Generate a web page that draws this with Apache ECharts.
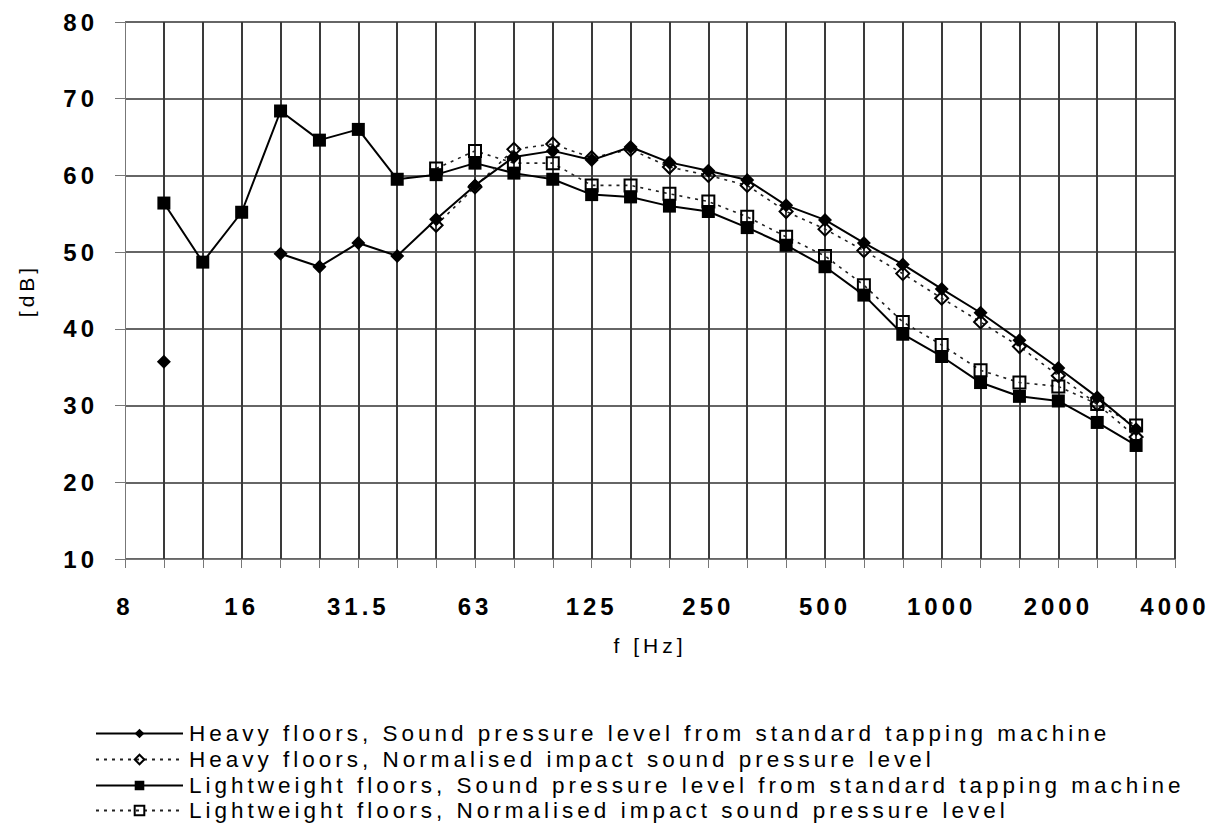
<!DOCTYPE html>
<html>
<head>
<meta charset="utf-8">
<script src="https://cdn.jsdelivr.net/npm/echarts@6/dist/echarts.min.js"></script>
<style>
  html, body { margin: 0; padding: 0; background: #fff; }
  #chart { width: 1219px; height: 824px; }
  /* the original uses widely spaced lettering */
  #chart text { letter-spacing: 4px; }
</style>
</head>
<body>
<div id="chart"></div>
<script>
// third-octave band centre frequencies, Hz
const freqs = ['8', '10', '12.5', '16', '20', '25', '31.5', '40', '50', '63', '80', '100', '125', '160',
  '200', '250', '315', '400', '500', '630', '800', '1000', '1250', '1600', '2000', '2500', '3150', '4000'];

// levels in dB, null where nothing was measured
const heavySpl = [null, 35.7, null, null, 49.8, 48.1, 51.2, 49.5, 54.3, 58.7, 62.4, 63.2, 62.0, 63.7,
  61.7, 60.6, 59.4, 56.1, 54.2, 51.2, 48.4, 45.2, 42.1, 38.5, 34.9, 31.1, 26.9, null];
const heavyNorm = [null, null, null, null, null, null, null, null, 53.5, 58.5, 63.4, 64.1, 62.3, 63.4,
  61.1, 60.0, 58.7, 55.3, 53.0, 50.2, 47.2, 44.0, 40.9, 37.7, 33.9, 30.2, 25.9, null];
const lightSpl = [null, 56.4, 48.7, 55.2, 68.4, 64.6, 66.0, 59.5, 60.1, 61.6, 60.3, 59.5, 57.5, 57.2,
  56.0, 55.3, 53.2, 50.9, 48.1, 44.4, 39.3, 36.4, 33.0, 31.2, 30.6, 27.8, 24.8, null];
const lightNorm = [null, null, null, null, null, null, null, null, 60.9, 63.2, 61.6, 61.6, 58.7, 58.7,
  57.6, 56.6, 54.6, 52.0, 49.5, 45.7, 40.9, 37.9, 34.6, 33.0, 32.5, 30.2, 27.4, null];

const seriesNames = [
  'Heavy floors, Sound pressure level from standard tapping machine',
  'Heavy floors, Normalised impact sound pressure level',
  'Lightweight floors, Sound pressure level from standard tapping machine',
  'Lightweight floors, Normalised impact sound pressure level'
];

const fontFamily = '"Liberation Sans", Arial, sans-serif';

const chart = echarts.init(document.getElementById('chart'), null, { renderer: 'svg' });

const solidLine = { color: '#000', width: 2, type: 'solid' };
const dashLine = { color: '#222', width: 1.6, type: [3, 5] };

// one legend per row so the four entries stack like the original
const legendTops = [722, 748, 774, 799];
const legends = seriesNames.map((name, i) => ({
  data: [name],
  orient: 'vertical',
  left: 95,
  top: legendTops[i],
  padding: 0,
  itemWidth: 87,
  itemHeight: 12,
  textStyle: { fontFamily: fontFamily, fontSize: 22.5, color: '#000', padding: [0, 0, 0, 1] }
}));

chart.setOption({
  animation: false,
  backgroundColor: '#fff',
  grid: { left: 125, right: 44, top: 22, bottom: 265 },
  legend: legends,
  xAxis: {
    type: 'category',
    data: freqs,
    boundaryGap: false,
    name: 'f [Hz]',
    nameLocation: 'middle',
    nameGap: 76,
    nameTextStyle: { fontFamily: fontFamily, fontSize: 21, color: '#000' },
    axisLine: { lineStyle: { color: '#777', width: 1 } },
    axisTick: { interval: 0, length: 9, lineStyle: { color: '#777' } },
    axisLabel: {
      interval: 2,
      margin: 35,
      fontFamily: fontFamily,
      fontSize: 24,
      fontWeight: 'bold',
      color: '#000'
    },
    splitLine: {
      show: true,
      interval: (idx) => idx !== 0,
      lineStyle: { color: '#3a3a3a', width: 2 }
    }
  },
  yAxis: {
    type: 'value',
    min: 10,
    max: 80,
    interval: 10,
    name: '[dB]',
    nameLocation: 'middle',
    nameGap: 88,
    nameTextStyle: { fontFamily: fontFamily, fontSize: 21, color: '#000' },
    axisLine: { show: true, lineStyle: { color: '#777', width: 1 } },
    axisTick: { show: true, length: 10, lineStyle: { color: '#777' } },
    axisLabel: {
      margin: 27,
      fontFamily: fontFamily,
      fontSize: 24,
      fontWeight: 'bold',
      color: '#000'
    },
    splitLine: { show: true, lineStyle: { color: '#666', width: 2 } }
  },
  series: [
    {
      name: seriesNames[3],
      type: 'line',
      data: lightNorm,
      symbol: 'rect',
      symbolSize: 12,
      lineStyle: dashLine,
      itemStyle: { color: 'rgba(255,255,255,0)', borderColor: '#000', borderWidth: 2 }
    },
    {
      name: seriesNames[2],
      type: 'line',
      data: lightSpl,
      symbol: 'rect',
      symbolSize: 13,
      lineStyle: solidLine,
      itemStyle: { color: '#000' }
    },
    {
      name: seriesNames[1],
      type: 'line',
      data: heavyNorm,
      symbol: 'diamond',
      symbolSize: 13,
      lineStyle: dashLine,
      itemStyle: { color: 'rgba(255,255,255,0)', borderColor: '#000', borderWidth: 2 }
    },
    {
      name: seriesNames[0],
      type: 'line',
      data: heavySpl,
      symbol: 'diamond',
      symbolSize: 14,
      lineStyle: solidLine,
      itemStyle: { color: '#000' }
    }
  ]
});
</script>
</body>
</html>
